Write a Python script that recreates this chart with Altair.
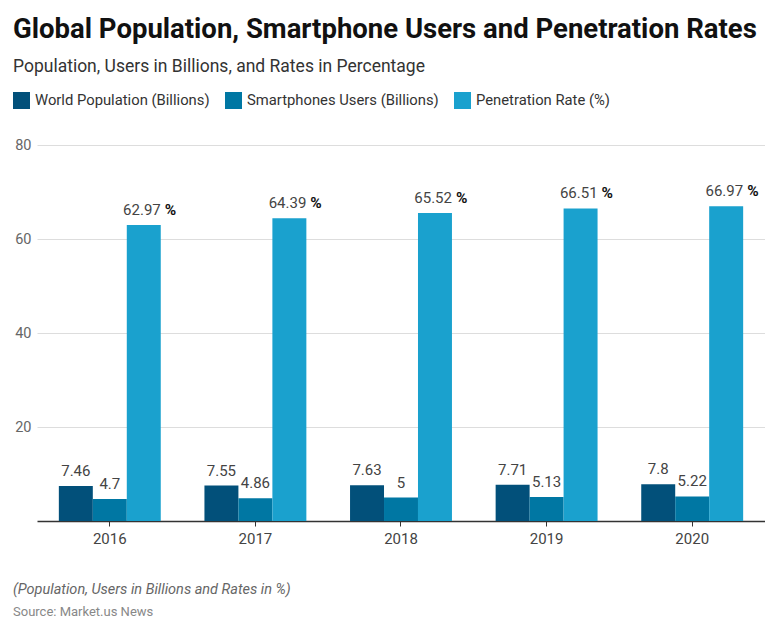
import altair as alt
import pandas as pd

years = ["2016", "2017", "2018", "2019", "2020"]
series = ["World Population (Billions)", "Smartphones Users (Billions)", "Penetration Rate (%)"]
population = [7.46, 7.55, 7.63, 7.71, 7.8]
smartphone_users = [4.7, 4.86, 5, 5.13, 5.22]
penetration = [62.97, 64.39, 65.52, 66.51, 66.97]
colors = ["#02507a", "#0077a3", "#1aa1ce"]

rows = []
for i, y in enumerate(years):
    for s, vals in zip(series, [population, smartphone_users, penetration]):
        v = vals[i]
        rows.append({"year": y, "series": s, "value": v, "label": f"{v:g}"})
df = pd.DataFrame(rows)

W, H = 728, 376
FONT = "Roboto"

x = alt.X("year:N", title=None, sort=years,
          scale=alt.Scale(paddingInner=0.3, paddingOuter=0.15),
          axis=alt.Axis(labelAngle=0, labelFontSize=15, labelColor="#444444",
                        labelFont=FONT, domainColor="#333333", domainWidth=1.5,
                        tickColor="#333333", tickSize=5, labelPadding=5))
y = alt.Y("value:Q", title=None,
          scale=alt.Scale(domain=[0, 80]),
          axis=alt.Axis(values=[20, 40, 60, 80], labelFontSize=14.5, labelColor="#666666",
                        labelFont=FONT, domain=False, ticks=False, gridColor="#dddddd",
                        labelPadding=6))
xoff = alt.XOffset("series:N", sort=series)

base = alt.Chart(df)

bars = base.mark_bar().encode(
    x=x, y=y, xOffset=xoff,
    color=alt.Color("series:N", sort=series, title=None,
                    scale=alt.Scale(domain=series, range=colors),
                    legend=alt.Legend(orient="none", legendX=-24, legendY=-53,
                                      direction="horizontal", symbolType="square",
                                      symbolSize=289, symbolStrokeWidth=0,
                                      labelFontSize=14.8, labelFont=FONT, labelColor="#333333",
                                      labelLimit=400, columnPadding=15, labelOffset=5)),
)

small = base.transform_filter(alt.datum.series != series[2]).mark_text(
    baseline="alphabetic", dy=-10, fontSize=15, font=FONT, color="#444444"
).encode(x=x, y=y, xOffset=xoff, text="label:N")

pct_num = base.transform_filter(alt.datum.series == series[2]).mark_text(
    baseline="alphabetic", align="right", dx=17, dy=-10, fontSize=15, font=FONT, color="#444444"
).encode(x=x, y=y, xOffset=xoff, text="label:N")

pct_sign = base.transform_filter(alt.datum.series == series[2]).mark_text(
    baseline="alphabetic", align="left", dx=21, dy=-10, fontSize=15.5, font=FONT,
    fontWeight="bold", color="#111111", text="%"
).encode(x=x, y=y, xOffset=xoff)

foot1 = alt.Chart(pd.DataFrame({"t": ["(Population, Users in Billions and Rates in %)"]})).mark_text(
    align="left", baseline="alphabetic", fontSize=14.5, font=FONT, fontStyle="italic", color="#666666"
).encode(x=alt.value(-24), y=alt.value(H + 73), text="t:N")

foot2 = alt.Chart(pd.DataFrame({"t": ["Source: Market.us News"]})).mark_text(
    align="left", baseline="alphabetic", fontSize=13, font=FONT, color="#888888"
).encode(x=alt.value(-24), y=alt.value(H + 95), text="t:N")

chart = alt.layer(bars, small, pct_num, pct_sign, foot1, foot2).properties(
    width=W, height=H,
    title=alt.TitleParams(
        text="Global Population, Smartphone Users and Penetration Rates",
        subtitle="Population, Users in Billions, and Rates in Percentage",
        anchor="start", font=FONT, fontSize=27.5, fontWeight="bold", color="#111111",
        subtitleFont=FONT, subtitleFontSize=17.5, subtitleColor="#333333",
        subtitlePadding=14, offset=17),
).configure_view(stroke=None).properties(padding={"left": 5, "top": 8, "right": 0, "bottom": 0})

chart.save("out.html", embed_options={"renderer": "svg", "actions": False})
